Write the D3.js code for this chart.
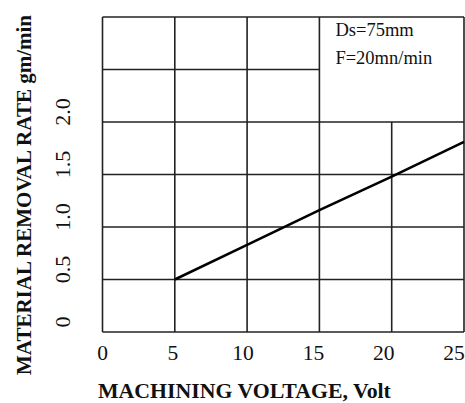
<!DOCTYPE html>
<html>
<head>
<meta charset="utf-8">
<script src="https://cdn.jsdelivr.net/npm/d3@7"></script>
<style>
  body { margin: 0; background: #fff; }
  text { font-family: "Liberation Serif", "Times New Roman", serif; fill: #111; }
</style>
</head>
<body>
<div id="chart"></div>
<script>
var svgWidth = 465;
var svgHeight = 403;

// data
var voltage = [5, 10, 15, 20, 25];
var removalRate = [0.5, 0.83, 1.16, 1.48, 1.81];
var xTicks = [0, 5, 10, 15, 20, 25];
var yTicks = [0, 0.5, 1.0, 1.5, 2.0];
var yGrid = [0, 0.5, 1.0, 1.5, 2.0, 2.5, 3.0];
var legendLines = ["Ds=75mm", "F=20mn/min"];

var x = d3.scaleLinear().domain([0, 25]).range([102.5, 464]);
var y = d3.scaleLinear().domain([0, 3]).range([332, 17]);

var svg = d3.select("#chart")
  .append("svg")
  .attr("width", svgWidth)
  .attr("height", svgHeight);

var grid = svg.append("g")
  .attr("stroke", "#222")
  .attr("stroke-width", 1.6)
  .attr("fill", "none");

// legend box sits in the top right corner: x 15..25, y 2.0..3.0
var boxX = 15, boxY = 2.0;

// vertical grid lines
grid.selectAll("line.v")
  .data(xTicks)
  .enter().append("line")
  .attr("class", "v")
  .attr("x1", d => x(d))
  .attr("x2", d => x(d))
  .attr("y1", y(0))
  .attr("y2", d => (d > boxX && d < 25) ? y(boxY) : y(3));

// horizontal grid lines
grid.selectAll("line.h")
  .data(yGrid)
  .enter().append("line")
  .attr("class", "h")
  .attr("x1", x(0))
  .attr("x2", d => (d > boxY && d < 3) ? x(boxX) : x(25))
  .attr("y1", d => y(d))
  .attr("y2", d => y(d));

// the data line
var line = d3.line()
  .x((d, i) => x(voltage[i]))
  .y(d => y(d));

svg.append("path")
  .datum(removalRate)
  .attr("d", line)
  .attr("fill", "none")
  .attr("stroke", "#000")
  .attr("stroke-width", 2.6);

// legend text
svg.selectAll("text.legend")
  .data(legendLines)
  .enter().append("text")
  .attr("class", "legend")
  .attr("x", x(boxX) + 16)
  .attr("y", (d, i) => 36 + i * 28)
  .attr("font-size", 18.5)
  .text(d => d);

// x tick labels (they drift a little left of the grid lines in the original)
svg.selectAll("text.xt")
  .data(xTicks)
  .enter().append("text")
  .attr("class", "xt")
  .attr("x", d => x(d) - d * 0.4)
  .attr("y", 360)
  .attr("text-anchor", "middle")
  .attr("font-size", 21.5)
  .text(d => d);

// y tick labels, rotated
svg.selectAll("text.yt")
  .data(yTicks)
  .enter().append("text")
  .attr("class", "yt")
  .attr("transform", d => `translate(70, ${y(d) - 10}) rotate(-90)`)
  .attr("text-anchor", "middle")
  .attr("font-size", 22)
  .text(d => d === 0 ? "0" : d.toFixed(1));

// axis titles
svg.append("text")
  .attr("x", 98)
  .attr("y", 398)
  .attr("font-size", 21.8)
  .attr("font-weight", "bold")
  .text("MACHINING VOLTAGE, Volt");

svg.append("text")
  .attr("transform", "translate(31, 195) rotate(-90)")
  .attr("text-anchor", "middle")
  .attr("font-size", 21)
  .attr("font-weight", "bold")
  .text("MATERIAL REMOVAL RATE gm/min");
</script>
</body>
</html>
